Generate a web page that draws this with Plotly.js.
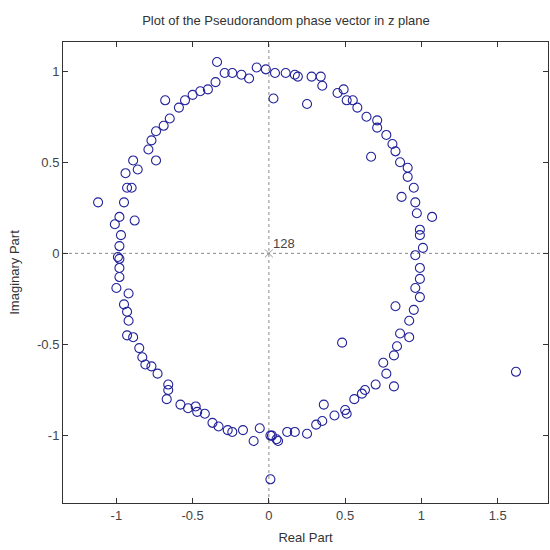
<!DOCTYPE html>
<html>
<head>
<meta charset="utf-8">
<script src="https://cdn.plot.ly/plotly-3.0.1.min.js"></script>
<style>html,body{margin:0;padding:0;background:#fff;}#chart{width:550px;height:550px;}</style>
</head>
<body>
<div id="chart"></div>
<script>
// Zeros (real and imaginary parts)
const realPart = [
 -0.34,-0.29,-0.24,-0.18,-0.13,-0.08,-0.02,0.03,-0.35,-0.40,-0.45,-0.50,-0.55,-0.59,-0.68,-0.65,-0.69,-0.74,-0.77,-0.79,-0.74,-0.89,-0.86,-0.94,-0.93,-0.90,-0.95,-0.88,-1.12,-0.98,-1.01,-0.97,-0.98,-0.99,
 0.04,0.11,0.17,0.19,0.28,0.34,0.35,0.25,0.45,0.49,0.51,0.55,0.58,0.64,0.71,0.71,0.77,0.81,0.83,0.86,0.67,0.91,0.91,0.95,0.87,0.96,0.97,1.07,0.99,0.99,1.01,0.96,
 -0.98,-0.98,-0.98,-1.00,-0.92,-0.95,-0.93,-0.92,-0.93,-0.89,-0.85,-0.83,-0.81,-0.77,-0.73,-0.66,-0.66,-0.67,-0.58,-0.53,-0.48,-0.47,-0.42,-0.37,-0.33,-0.27,-0.24,-0.17,-0.10,-0.06,0.01,0.05,0.01,
 0.99,0.99,0.96,0.99,0.83,0.95,0.92,0.86,0.92,0.84,0.82,0.75,0.77,0.70,0.82,0.48,0.63,0.61,0.56,0.50,0.51,0.43,0.36,0.35,0.31,0.25,0.17,0.12,0.06,0.02,1.62
];
const imagPart = [
 1.05,0.99,0.99,0.98,0.96,1.02,1.01,0.85,0.94,0.90,0.89,0.87,0.84,0.80,0.84,0.74,0.70,0.67,0.62,0.57,0.51,0.51,0.46,0.44,0.36,0.36,0.28,0.18,0.28,0.20,0.16,0.10,0.04,-0.02,
 0.99,0.99,0.98,0.97,0.97,0.97,0.92,0.82,0.88,0.90,0.84,0.84,0.80,0.75,0.73,0.69,0.65,0.60,0.56,0.50,0.53,0.47,0.42,0.36,0.31,0.28,0.22,0.20,0.13,0.10,0.03,-0.01,
 -0.03,-0.08,-0.13,-0.19,-0.22,-0.28,-0.32,-0.37,-0.45,-0.46,-0.52,-0.57,-0.61,-0.62,-0.66,-0.72,-0.75,-0.80,-0.83,-0.85,-0.84,-0.87,-0.88,-0.93,-0.95,-0.97,-0.98,-0.97,-1.03,-0.96,-1.00,-1.02,-1.24,
 -0.08,-0.14,-0.19,-0.24,-0.29,-0.31,-0.37,-0.44,-0.46,-0.51,-0.56,-0.60,-0.66,-0.72,-0.73,-0.49,-0.75,-0.77,-0.80,-0.86,-0.88,-0.89,-0.83,-0.92,-0.94,-0.99,-0.98,-0.98,-1.03,-1.00,-0.65
];
const poleReal = [0];
const poleImag = [0];
const poleLabel = "128";
const xTicks = [-1, -0.5, 0, 0.5, 1, 1.5];
const xTickText = ["-1", "-0.5", "0", "0.5", "1", "1.5"];
const yTicks = [-1, -0.5, 0, 0.5, 1];
const yTickText = ["-1", "-0.5", "0", "0.5", "1"];

const font = "Liberation Sans, Arial, sans-serif";

const traces = [
  {x: realPart, y: imagPart, type: "scatter", mode: "markers",
   marker: {symbol: "circle-open", size: 9, color: "#22229a", line: {width: 1.1, color: "#22229a"}},
   hoverinfo: "x+y"},
  {x: poleReal, y: poleImag, type: "scatter", mode: "markers",
   marker: {symbol: "x-thin-open", size: 8, color: "#999", line: {width: 1, color: "#999"}}}
];

const layout = {
  width: 550, height: 550,
  margin: {l: 63, r: 2, t: 42, b: 47},
  paper_bgcolor: "#fff", plot_bgcolor: "#fff",
  showlegend: false,
  font: {family: font, size: 12, color: "#333"},
  title: {text: "Plot of the Pseudorandom phase vector in z plane", x: 0.52, xanchor: "center",
          y: 0.962, yanchor: "middle", font: {family: font, size: 13, color: "#333"}},
  xaxis: {range: [-1.35, 1.83], tickvals: xTicks, ticktext: xTickText,
          ticks: "inside", ticklen: 5, tickcolor: "#333", showgrid: false, zeroline: false,
          showline: true, linecolor: "#333", linewidth: 1, mirror: "ticks",
          title: {text: "Real Part", standoff: 11, font: {family: font, size: 13, color: "#333"}},
          tickfont: {family: font, size: 13, color: "#444"}},
  yaxis: {range: [-1.37, 1.16], tickvals: yTicks, ticktext: yTickText,
          ticks: "inside", ticklen: 5, tickcolor: "#333", showgrid: false, zeroline: false,
          showline: true, linecolor: "#333", linewidth: 1, mirror: "ticks",
          title: {text: "Imaginary Part", standoff: 14, font: {family: font, size: 13, color: "#333"}},
          tickfont: {family: font, size: 13, color: "#444"}},
  shapes: [
    {type: "line", xref: "x", yref: "paper", x0: 0, x1: 0, y0: 0, y1: 1,
     line: {color: "#8a8a8a", width: 1, dash: "dot"}, layer: "below"},
    {type: "line", xref: "paper", yref: "y", x0: 0, x1: 1, y0: 0, y1: 0,
     line: {color: "#8a8a8a", width: 1, dash: "dot"}, layer: "below"}
  ],
  annotations: [
    {x: poleReal[0], y: poleImag[0], xref: "x", yref: "y", text: poleLabel, showarrow: false,
     xanchor: "left", yanchor: "bottom", xshift: 2, yshift: 0,
     font: {family: font, size: 13, color: "#444"}}
  ]
};

Plotly.newPlot("chart", traces, layout, {displayModeBar: false, staticPlot: true});
</script>
</body>
</html>
